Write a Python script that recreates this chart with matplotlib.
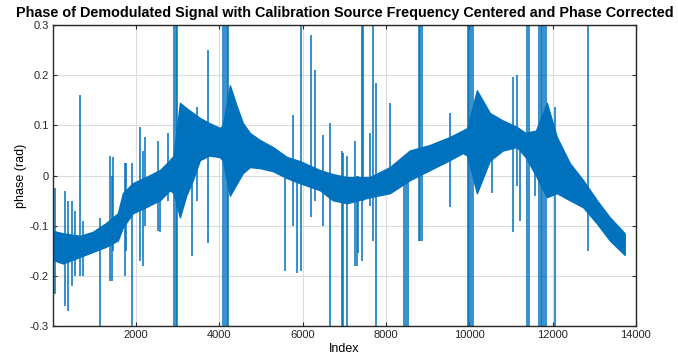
import matplotlib
matplotlib.use("Agg")
import matplotlib.pyplot as plt

# 위상 신호 - 그림에서 읽은 값 (밴드 상/하한 + 스파이크)
env_idx = [0, 240, 650, 960, 1270, 1560, 1680, 1920, 2230, 2570, 2810, 2900, 3050, 3200, 3360, 3530,
           3750, 4010, 4080, 4250, 4420, 4560, 4730, 4970, 5280, 5620, 5930, 6410, 6720, 7060,
           7610, 8090, 8570, 9050, 9530, 9840, 9950, 10180, 10490, 10800, 11140, 11350, 11600,
           11860, 12100, 12410, 12730, 13060, 13370, 13730]
env_hi = [-0.11, -0.115, -0.12, -0.112, -0.095, -0.075, -0.035, -0.015, -0.003, 0.011, 0.031, 0.04, 0.145, 0.135, 0.125, 0.115,
          0.105, 0.095, 0.10, 0.18, 0.137, 0.105, 0.085, 0.071, 0.057, 0.037, 0.029, 0.011, 0.003, -0.003,
          -0.003, 0.017, 0.05, 0.061, 0.077, 0.09, 0.095, 0.17, 0.125, 0.11, 0.097, 0.085, 0.09,
          0.145, 0.077, 0.025, -0.009, -0.049, -0.083, -0.115]
env_lo = [-0.168, -0.175, -0.162, -0.152, -0.142, -0.129, -0.103, -0.075, -0.063, -0.049, -0.029, -0.035, -0.083, -0.04, -0.009, 0.031,
          0.04, 0.037, 0.03, -0.04, -0.015, 0.005, 0.017, 0.015, 0.009, -0.005, -0.015, -0.029, -0.049, -0.055,
          -0.043, -0.035, -0.009, 0.011, 0.031, 0.045, 0.04, -0.035, 0.03, 0.05, 0.057, 0.037, 0.0,
          -0.043, -0.035, -0.049, -0.063, -0.095, -0.129, -0.158]

spk_idx = [50, 290, 360, 460, 530, 650, 720, 1130, 1370, 1410, 1440, 1730, 1760, 1890, 2090, 2160, 2210,
           2520, 2570, 2760, 2910, 2950, 2990, 3340, 3460, 3720, 4090, 4130, 4170, 4210,
           5570, 5760, 5860, 5960, 6200, 6290, 6480, 6650, 6940, 6970, 7060, 7250, 7290, 7330,
           7420, 7450, 7610, 7690, 7760, 8090, 8420, 8470, 8520, 8780, 8820, 8860, 9530,
           9960, 10000, 10040, 10080, 10540, 11040, 11140, 11210, 11390, 11430, 11570,
           11670, 11710, 11750, 11790, 11830, 12050, 12850]
spk_lo = [-0.235, -0.26, -0.27, -0.22, -0.2, -0.2, -0.2, -0.35, -0.21, -0.21, -0.15, -0.2, -0.15, -0.35, -0.17, -0.18, -0.1,
          -0.11, -0.113, -0.05, -0.35, -0.35, -0.35, -0.16, -0.05, -0.135, -0.35, -0.35, -0.35, -0.35,
          -0.19, -0.1, -0.195, -0.19, -0.083, -0.05, -0.1, -0.35, -0.35, -0.35, -0.35, -0.18, -0.18, -0.155,
          -0.17, -0.05, -0.06, -0.13, -0.35, -0.03, -0.35, -0.35, -0.35, -0.13, -0.13, -0.13, -0.063,
          -0.35, -0.35, -0.35, -0.35, -0.035, -0.113, -0.02, -0.09, -0.35, -0.35, -0.04,
          -0.35, -0.35, -0.35, -0.35, -0.35, -0.35, -0.15]
spk_hi = [-0.025, -0.03, -0.05, -0.05, -0.07, 0.16, -0.09, -0.085, 0.04, 0.0, 0.038, 0.025, 0.025, 0.025, 0.097, 0.05, 0.077,
          0.07, 0.0, 0.085, 0.35, 0.35, 0.35, 0.10, 0.137, 0.25, 0.35, 0.35, 0.35, 0.35,
          0.03, 0.12, 0.03, 0.35, 0.28, 0.21, 0.08, 0.105, 0.05, 0.045, 0.04, 0.07, 0.0, 0.0,
          0.35, 0.35, 0.085, 0.35, 0.185, 0.145, 0.04, 0.04, 0.04, 0.35, 0.35, 0.35, 0.125,
          0.35, 0.35, 0.35, 0.35, 0.1, 0.196, 0.2, 0.05, 0.35, 0.35, 0.05,
          0.35, 0.35, 0.35, 0.35, 0.35, 0.137, 0.35]

x_ticks = [2000, 4000, 6000, 8000, 10000, 12000, 14000]
y_ticks = [-0.3, -0.2, -0.1, 0, 0.1, 0.2, 0.3]
y_ticklabels = ['-0.3', '-0.2', '-0.1', '0', '0.1', '0.2', '0.3']

blue = '#0072BD'
plt.rcParams['font.family'] = ['Liberation Sans', 'DejaVu Sans']

fig = plt.figure(figsize=(6.78, 3.64), dpi=100)
ax = fig.add_axes([0.078, 0.104, 0.860, 0.827])

ax.fill_between(env_idx, env_lo, env_hi, color=blue, linewidth=1.0, edgecolor=blue)
ax.vlines(spk_idx, spk_lo, spk_hi, color=blue, linewidth=1.1)

ax.set_xlim(0, 14000)
ax.set_ylim(-0.3, 0.3)
ax.set_xticks(x_ticks)
ax.set_yticks(y_ticks)
ax.set_yticklabels(y_ticklabels)
ax.grid(True, color='#dcdcdc', linewidth=0.8)
ax.set_axisbelow(True)
ax.tick_params(direction='in', top=True, right=True, labelsize=8, length=3, colors='#262626', pad=3)
for s in ax.spines.values():
    s.set_color('#262626')
    s.set_linewidth(1.0)

ax.set_title('Phase of Demodulated Signal with Calibration Source Frequency Centered and Phase Corrected',
             fontsize=10.4, fontweight='bold', pad=6)
ax.set_xlabel('Index', fontsize=9, labelpad=2)
ax.set_ylabel('phase (rad)', fontsize=9, labelpad=2)

fig.savefig('out.png', dpi=100)
